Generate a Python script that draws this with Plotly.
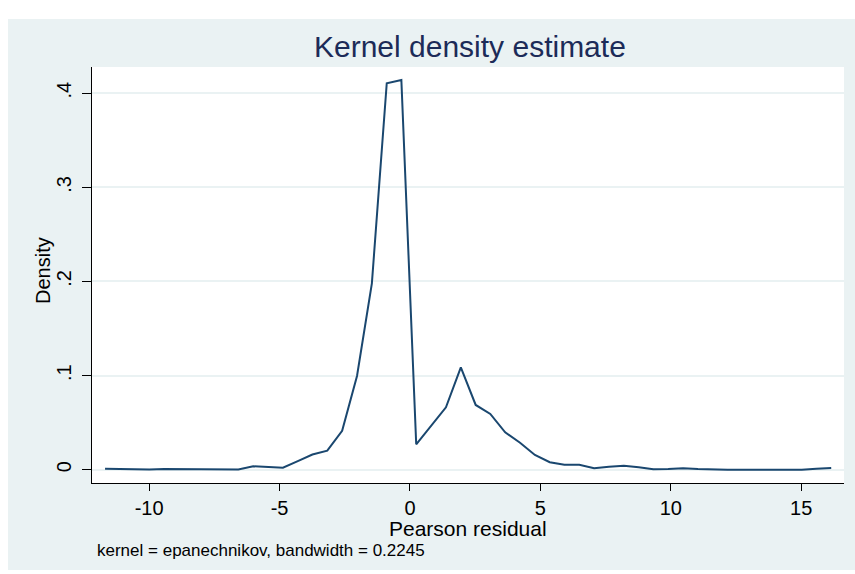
import plotly.graph_objects as go

# Evaluation grid of the kernel density (Pearson residuals)
residual = [
    -11.69, -11.12, -10.55, -9.99, -9.42, -8.85, -8.28, -7.71, -7.14, -6.58,
    -6.01, -5.44, -4.87, -4.30, -3.74, -3.17, -2.60, -2.03, -1.46, -0.89,
    -0.33, 0.24, 0.81, 1.38, 1.95, 2.52, 3.08, 3.65, 4.22, 4.79,
    5.36, 5.92, 6.49, 7.06, 7.63, 8.20, 8.77, 9.33, 9.90, 10.47,
    11.04, 11.61, 12.17, 12.74, 13.31, 13.88, 14.45, 15.02, 15.58, 16.15,
]

# Estimated density at each grid point
density = [
    0.0010, 0.0008, 0.0001, 0.0001, 0.0008, 0.0008, 0.0008, 0.0003, 0.0008, 0.0003,
    0.0036, 0.0029, 0.0022, 0.0092, 0.0161, 0.0202, 0.0414, 0.0996, 0.1980, 0.4106,
    0.4141, 0.0270, 0.0465, 0.0663, 0.1088, 0.0688, 0.0592, 0.0397, 0.0287, 0.0156,
    0.0079, 0.0053, 0.0053, 0.0015, 0.0032, 0.0043, 0.0025, 0.0004, 0.0007, 0.0015,
    0.0007, 0.0000, 0.0000, 0.0000, 0.0000, 0.0000, 0.0000, 0.0000, 0.0010, 0.0018,
]

x_ticks = [-10, -5, 0, 5, 10, 15]
x_tick_labels = ["-10", "-5", "0", "5", "10", "15"]
y_ticks = [0, 0.1, 0.2, 0.3, 0.4]
y_tick_labels = ["0", ".1", ".2", ".3", ".4"]

title_text = "Kernel density estimate"
x_title = "Pearson residual"
y_title = "Density"
note_text = "kernel = epanechnikov, bandwidth = 0.2245"

FONT = "Liberation Sans, Arial, sans-serif"
BG = "#EAF2F3"
LINE = "#1A476F"

W, H = 855, 574
ML, MR, MT, MB = 92, 11, 67, 91
PW, PH = W - ML - MR, H - MT - MB


def px(xp):
    return (xp - ML) / PW


def py(yp):
    return (H - MB - yp) / PH


fig = go.Figure()
fig.add_trace(go.Scatter(
    x=residual, y=density, mode="lines",
    line=dict(color=LINE, width=2),
    hoverinfo="skip", showlegend=False,
))

fig.update_layout(
    width=W, height=H,
    margin=dict(l=ML, r=MR, t=MT, b=MB, pad=0),
    paper_bgcolor="white",
    plot_bgcolor="white",
    showlegend=False,
    font=dict(family=FONT, color="black"),
    xaxis=dict(
        range=[-12.19, 16.64],
        tickmode="array", tickvals=x_ticks, ticktext=x_tick_labels,
        ticks="outside", ticklen=7, tickwidth=1, tickcolor="black",
        tickfont=dict(size=20, family=FONT, color="black"),
        showline=True, linecolor="black", linewidth=1,
        showgrid=False, zeroline=False, mirror=False,
    ),
    yaxis=dict(
        range=[-0.01413, 0.4279],
        tickmode="array", tickvals=y_ticks, ticktext=y_tick_labels,
        tickangle=-90,
        ticks="outside", ticklen=9, tickwidth=1, tickcolor="black",
        tickfont=dict(size=20, family=FONT, color="black"),
        ticklabelstandoff=3,
        showline=True, linecolor="black", linewidth=1,
        showgrid=True, gridcolor=BG, gridwidth=2,
        zeroline=False, mirror=False,
    ),
    shapes=[
        dict(type="rect", xref="paper", yref="paper", layer="below",
             x0=px(8), x1=px(W + 5), y0=py(570), y1=py(19),
             fillcolor=BG, line=dict(width=0)),
        dict(type="rect", xref="paper", yref="paper", layer="below",
             x0=0, x1=1, y0=0, y1=1,
             fillcolor="white", line=dict(width=0)),
    ],
    annotations=[
        dict(text=title_text, xref="paper", yref="paper",
             x=px(470), y=py(47), xanchor="center", yanchor="middle",
             showarrow=False, font=dict(size=30, family=FONT, color="#1C2B58")),
        dict(text=x_title, xref="paper", yref="paper",
             x=px(468), y=py(528), xanchor="center", yanchor="middle",
             showarrow=False, font=dict(size=21, family=FONT, color="black")),
        dict(text=y_title, xref="paper", yref="paper",
             x=px(43), y=py(271), xanchor="center", yanchor="middle",
             textangle=-90,
             showarrow=False, font=dict(size=20, family=FONT, color="black")),
        dict(text=note_text, xref="paper", yref="paper",
             x=px(95), y=py(550), xanchor="left", yanchor="middle",
             showarrow=False, font=dict(size=17, family=FONT, color="black")),
    ],
)

fig.write_html("out.html")
